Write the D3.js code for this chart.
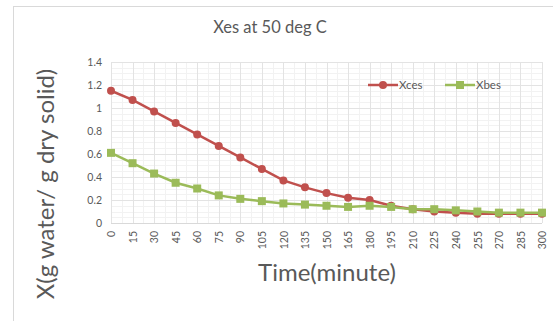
<!DOCTYPE html>
<html>
<head>
<meta charset="utf-8">
<script src="https://cdn.jsdelivr.net/npm/d3@7"></script>
<style>
  body { margin: 0; background: #fff; }
  text { font-family: Lato, "Open Sans", sans-serif; }
</style>
</head>
<body>
<div id="container"></div>
<script>
const times = [0,15,30,45,60,75,90,105,120,135,150,165,180,195,210,225,240,255,270,285,300]
const xces = [1.15,1.07,0.97,0.87,0.77,0.67,0.57,0.47,0.37,0.31,0.26,0.22,0.2,0.15,0.12,0.1,0.09,0.08,0.08,0.08,0.08]
const xbes = [0.61,0.52,0.43,0.35,0.3,0.24,0.21,0.19,0.17,0.16,0.15,0.14,0.15,0.14,0.12,0.12,0.11,0.1,0.09,0.09,0.09]
const yTicks = [0,0.2,0.4,0.6,0.8,1,1.2,1.4]

const width = 553
const height = 321
const plotLeft = 111, plotRight = 542, plotTop = 62, plotBottom = 223

const svg = d3.select("#container").append("svg")
              .attr("width", width)
              .attr("height", height)

// chart frame (runs off the page at right and bottom)
svg.append("rect")
   .attr("x", 13.5).attr("y", 6.5)
   .attr("width", 600).attr("height", 400)
   .attr("fill", "#fff")
   .attr("stroke", "#d9d9d9")

const x = d3.scalePoint()
            .domain(times)
            .range([plotLeft, plotRight])
const y = d3.scaleLinear()
            .domain([0, 1.4])
            .range([plotBottom, plotTop])

const step = x.step()

// minor grid
const minorY = d3.range(0, 1.4001, 0.05)
svg.append("g").selectAll("line")
   .data(minorY)
   .enter().append("line")
   .attr("x1", plotLeft).attr("x2", plotRight)
   .attr("y1", d => Math.round(y(d)) + 0.5)
   .attr("y2", d => Math.round(y(d)) + 0.5)
   .attr("stroke", "#f2f2f2")
svg.append("g").selectAll("line")
   .data(times.slice(0, -1))
   .enter().append("line")
   .attr("x1", d => Math.round(x(d) + step / 2) + 0.5)
   .attr("x2", d => Math.round(x(d) + step / 2) + 0.5)
   .attr("y1", plotTop).attr("y2", plotBottom)
   .attr("stroke", "#f2f2f2")

// major grid
svg.append("g").selectAll("line")
   .data(yTicks)
   .enter().append("line")
   .attr("x1", plotLeft).attr("x2", plotRight)
   .attr("y1", d => Math.round(y(d)) + 0.5)
   .attr("y2", d => Math.round(y(d)) + 0.5)
   .attr("stroke", d => d === 0 ? "#d9d9d9" : "#e3e3e3")
svg.append("g").selectAll("line")
   .data(times)
   .enter().append("line")
   .attr("x1", d => Math.round(x(d)) + 0.5)
   .attr("x2", d => Math.round(x(d)) + 0.5)
   .attr("y1", plotTop).attr("y2", plotBottom)
   .attr("stroke", "#e3e3e3")

/*axes*/
const yAxis = d3.axisLeft(y)
                .tickValues(yTicks)
                .tickSize(0)
                .tickPadding(9)
                .tickFormat(d => d3.format("")(d))
svg.append("g")
   .attr("transform", `translate(${plotLeft},0)`)
   .call(yAxis)
   .call(g => g.select(".domain").remove())
   .selectAll("text")
   .attr("fill", "#595959")
   .attr("font-size", 10.5)

const xAxis = d3.axisBottom(x).tickSize(0).tickPadding(0)
svg.append("g")
   .attr("transform", `translate(0,${plotBottom})`)
   .call(xAxis)
   .call(g => g.select(".domain").remove())
   .selectAll("text")
   .attr("fill", "#595959")
   .attr("font-size", 10.5)
   .attr("text-anchor", "end")
   .attr("dy", "0.35em")
   .attr("transform", "translate(0,8) rotate(-90)")

/*series*/
const line = d3.line()
               .x((d, i) => x(times[i]))
               .y(d => y(d))

svg.append("path")
   .datum(xces)
   .attr("d", line)
   .attr("fill", "none")
   .attr("stroke", "#c0504d")
   .attr("stroke-width", 2.5)
svg.append("g").selectAll("circle")
   .data(xces)
   .enter().append("circle")
   .attr("cx", (d, i) => x(times[i]))
   .attr("cy", d => y(d))
   .attr("r", 4)
   .attr("fill", "#c0504d")

svg.append("path")
   .datum(xbes)
   .attr("d", line)
   .attr("fill", "none")
   .attr("stroke", "#9bbb59")
   .attr("stroke-width", 2.5)
svg.append("g").selectAll("rect")
   .data(xbes)
   .enter().append("rect")
   .attr("x", (d, i) => x(times[i]) - 4)
   .attr("y", d => y(d) - 4)
   .attr("width", 8)
   .attr("height", 8)
   .attr("fill", "#9bbb59")

/*legend*/
const lg = svg.append("g").attr("transform", "translate(368,85)")
lg.append("line").attr("x1", 0).attr("x2", 30).attr("stroke", "#c0504d").attr("stroke-width", 2.5)
lg.append("circle").attr("cx", 15).attr("r", 4).attr("fill", "#c0504d")
lg.append("text").attr("x", 31).attr("y", 4).text("Xces")
  .attr("font-size", 11.5).attr("fill", "#595959")
lg.append("line").attr("x1", 77).attr("x2", 107).attr("stroke", "#9bbb59").attr("stroke-width", 2.5)
lg.append("rect").attr("x", 88).attr("y", -4).attr("width", 8).attr("height", 8).attr("fill", "#9bbb59")
lg.append("text").attr("x", 108).attr("y", 4).text("Xbes")
  .attr("font-size", 11.5).attr("fill", "#595959")

/*titles*/
svg.append("text")
   .attr("x", 270).attr("y", 33)
   .attr("text-anchor", "middle")
   .attr("font-size", 16.5)
   .attr("fill", "#595959")
   .text("Xes at 50 deg C")

svg.append("text")
   .attr("x", 327).attr("y", 281)
   .attr("text-anchor", "middle")
   .attr("font-size", 24)
   .attr("fill", "#595959")
   .text("Time(minute)")

svg.append("text")
   .attr("transform", "translate(54,184) rotate(-90)")
   .attr("text-anchor", "middle")
   .attr("font-size", 24)
   .attr("fill", "#595959")
   .text("X(g water/ g dry solid)")
</script>
</body>
</html>
